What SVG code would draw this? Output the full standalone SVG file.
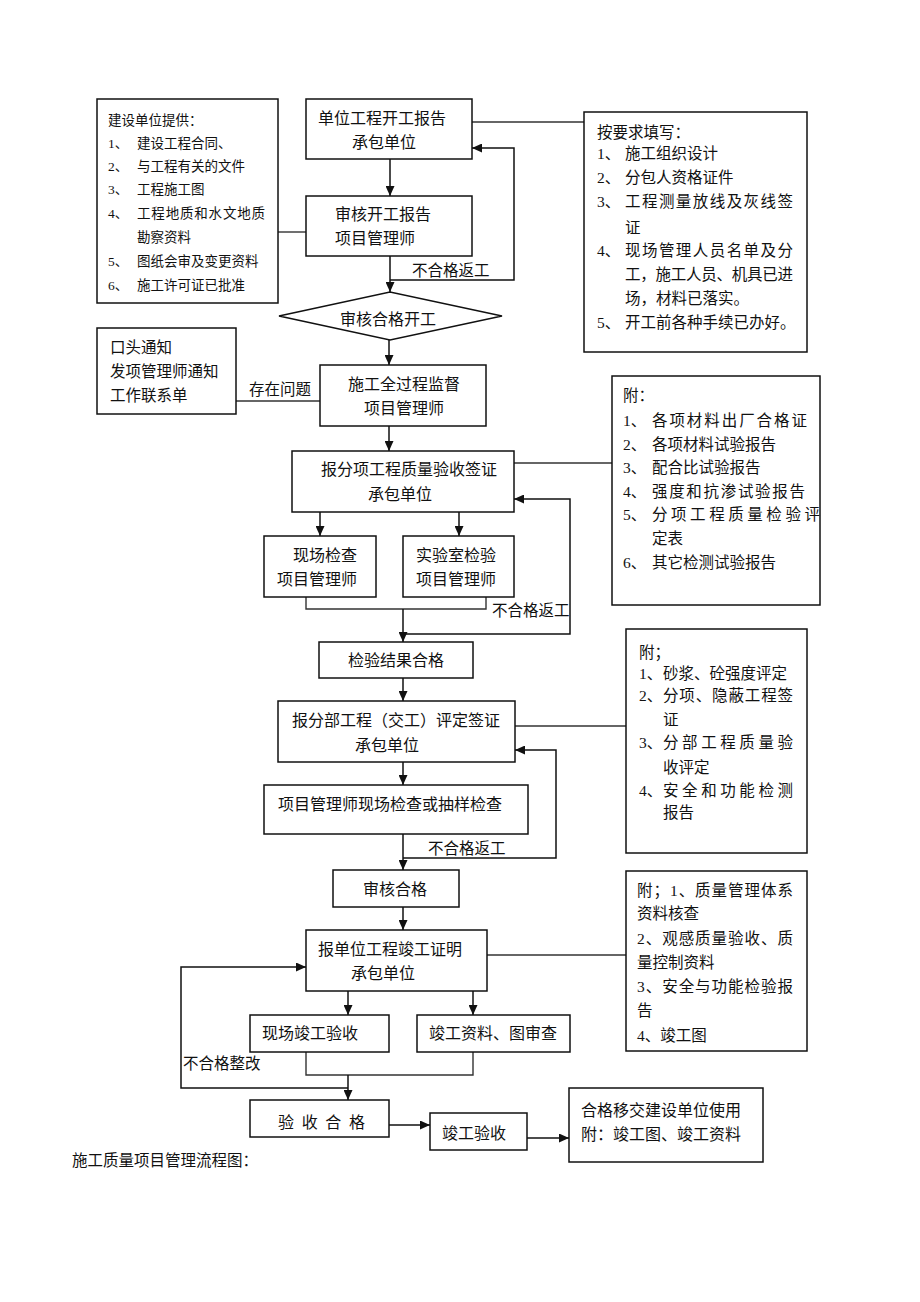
<svg xmlns="http://www.w3.org/2000/svg" width="920" height="1302" viewBox="0 0 920 1302">
<style>
.b{fill:#fff;stroke:#111;stroke-width:1.5}
.l{fill:none;stroke:#111;stroke-width:1.5}
.c{fill:none;stroke:#333;stroke-width:1.4}
text{font-family:"Liberation Serif","Noto Sans CJK SC",serif;fill:#111}
.t{font-size:16px}
.s{font-size:13.5px}
.m{font-size:15.5px}
.mid{text-anchor:middle}
</style>
<defs>
<marker id="ah" markerUnits="userSpaceOnUse" markerWidth="10" markerHeight="9" refX="10" refY="4.5" orient="auto">
<path d="M0,0 L10,4.5 L0,9 z" fill="#111"/>
</marker>
</defs>
<rect width="920" height="1302" fill="#fff"/>

<g id="connectors">
<line class="l" x1="390" y1="159" x2="390" y2="196" marker-end="url(#ah)"/>
<line class="c" x1="278" y1="232" x2="306" y2="232"/>
<line class="c" x1="472" y1="122" x2="584" y2="122"/>
<line class="l" x1="390" y1="256" x2="390" y2="292" marker-end="url(#ah)"/>
<polyline class="l" points="390,280 514,280 514,148 472,148" marker-end="url(#ah)"/>
<text class="m" x="412" y="276">不合格返工</text>
<line class="l" x1="389" y1="340" x2="389" y2="365" marker-end="url(#ah)"/>
<line class="c" x1="236" y1="401" x2="320" y2="401"/>
<text class="m" x="249" y="395">存在问题</text>
<line class="l" x1="389" y1="426" x2="389" y2="451" marker-end="url(#ah)"/>
<line class="c" x1="514" y1="463" x2="612" y2="463"/>
<line class="l" x1="320" y1="512" x2="320" y2="536" marker-end="url(#ah)"/>
<line class="l" x1="459" y1="512" x2="459" y2="536" marker-end="url(#ah)"/>
<polyline class="c" points="306,597 306,609 486,609 486,597"/>
<line class="l" x1="403" y1="609" x2="403" y2="642" marker-end="url(#ah)"/>
<polyline class="l" points="403,634 570,634 570,499 514,499" marker-end="url(#ah)"/>
<text class="m" x="492" y="616">不合格返工</text>
<line class="l" x1="403" y1="678" x2="403" y2="701" marker-end="url(#ah)"/>
<line class="c" x1="515" y1="726" x2="626" y2="726"/>
<line class="l" x1="403" y1="762" x2="403" y2="785" marker-end="url(#ah)"/>
<line class="l" x1="403" y1="834" x2="403" y2="870" marker-end="url(#ah)"/>
<polyline class="l" points="403,858 556,858 556,750 515,750" marker-end="url(#ah)"/>
<text class="m" x="428" y="854">不合格返工</text>
<line class="l" x1="403" y1="907" x2="403" y2="930" marker-end="url(#ah)"/>
<line class="c" x1="487" y1="955" x2="626" y2="955"/>
<line class="l" x1="348" y1="991" x2="348" y2="1015" marker-end="url(#ah)"/>
<line class="l" x1="473" y1="991" x2="473" y2="1015" marker-end="url(#ah)"/>
<polyline class="c" points="306,1052 306,1075 473,1075 473,1052"/>
<line class="l" x1="348" y1="1075" x2="348" y2="1100" marker-end="url(#ah)"/>
<polyline class="l" points="348,1088 181,1088 181,967 306,967" marker-end="url(#ah)"/>
<text class="m" x="183" y="1069">不合格整改</text>
<line class="l" x1="389" y1="1125" x2="430" y2="1125" marker-end="url(#ah)"/>
<line class="l" x1="527" y1="1138" x2="569" y2="1138" marker-end="url(#ah)"/>
</g>

<g id="note-provide">
<rect class="b" x="97" y="99" width="181" height="204"/>
<text class="s" x="108" y="125">建设单位提供：</text>
<text class="s" y="148"><tspan x="108">1、</tspan><tspan x="137">建设工程合同、</tspan></text>
<text class="s" y="171"><tspan x="108">2、</tspan><tspan x="137">与工程有关的文件</tspan></text>
<text class="s" y="194"><tspan x="108">3、</tspan><tspan x="137">工程施工图</tspan></text>
<text class="s" y="218"><tspan x="108">4、</tspan></text>
<text class="s" x="137" y="218" textLength="128" lengthAdjust="spacing">工程地质和水文地质</text>
<text class="s" x="137" y="242">勘察资料</text>
<text class="s" y="266"><tspan x="108">5、</tspan><tspan x="137">图纸会审及变更资料</tspan></text>
<text class="s" y="290"><tspan x="108">6、</tspan><tspan x="137">施工许可证已批准</tspan></text>
</g>

<g id="n-report">
<rect class="b" x="306" y="99" width="166" height="60"/>
<text class="t" x="318" y="124">单位工程开工报告</text>
<text class="t" x="352" y="148">承包单位</text>
</g>

<g id="note-fill">
<rect class="b" x="584" y="112" width="223" height="240"/>
<text class="m" x="597" y="138">按要求填写：</text>
<text class="m" y="159"><tspan x="597">1、</tspan><tspan x="625">施工组织设计</tspan></text>
<text class="m" y="183"><tspan x="597">2、</tspan><tspan x="625">分包人资格证件</tspan></text>
<text class="m" x="597" y="207">3、</text>
<text class="m" x="625" y="207" textLength="168" lengthAdjust="spacing">工程测量放线及灰线签</text>
<text class="m" x="625" y="233">证</text>
<text class="m" x="597" y="256">4、</text>
<text class="m" x="625" y="256" textLength="168" lengthAdjust="spacing">现场管理人员名单及分</text>
<text class="m" x="625" y="280" textLength="168" lengthAdjust="spacing">工，施工人员、机具已进</text>
<text class="m" x="625" y="304">场，材料已落实。</text>
<text class="m" y="328"><tspan x="597">5、</tspan><tspan x="625">开工前各种手续已办好。</tspan></text>
</g>

<g id="n-review">
<rect class="b" x="306" y="196" width="166" height="60"/>
<text class="t" x="335" y="220">审核开工报告</text>
<text class="t" x="335" y="244">项目管理师</text>
</g>

<g id="n-decision">
<polygon class="b" points="279,316 390,292 502,316 390,340"/>
<text class="t mid" x="388" y="325">审核合格开工</text>
</g>

<g id="note-notice">
<rect class="b" x="97" y="328" width="139" height="86"/>
<text class="m" x="110" y="353">口头通知</text>
<text class="m" x="110" y="377">发项管理师通知</text>
<text class="m" x="110" y="401">工作联系单</text>
</g>

<g id="n-supervise">
<rect class="b" x="320" y="365" width="166" height="61"/>
<text class="t mid" x="404" y="390">施工全过程监督</text>
<text class="t mid" x="404" y="414">项目管理师</text>
</g>

<g id="n-subitem">
<rect class="b" x="292" y="451" width="222" height="61"/>
<text class="t mid" x="409" y="475">报分项工程质量验收签证</text>
<text class="t mid" x="400" y="500">承包单位</text>
</g>

<g id="note-sub">
<rect class="b" x="612" y="376" width="208" height="229"/>
<text class="m" x="623" y="401">附：</text>
<text class="m" x="623" y="426">1、</text>
<text class="m" x="652" y="426" textLength="155" lengthAdjust="spacing">各项材料出厂合格证</text>
<text class="m" y="450"><tspan x="623">2、</tspan><tspan x="652">各项材料试验报告</tspan></text>
<text class="m" y="473"><tspan x="623">3、</tspan><tspan x="652">配合比试验报告</tspan></text>
<text class="m" x="623" y="497">4、</text>
<text class="m" x="652" y="497" textLength="153" lengthAdjust="spacing">强度和抗渗试验报告</text>
<text class="m" x="623" y="520">5、</text>
<text class="m" x="652" y="520" textLength="168" lengthAdjust="spacing">分项工程质量检验评</text>
<text class="m" x="652" y="544">定表</text>
<text class="m" y="568"><tspan x="623">6、</tspan><tspan x="652">其它检测试验报告</tspan></text>
</g>

<g id="n-site-check">
<rect class="b" x="264" y="536" width="112" height="61"/>
<text class="t" x="293" y="561">现场检查</text>
<text class="t" x="277" y="585">项目管理师</text>
</g>

<g id="n-lab-check">
<rect class="b" x="403" y="536" width="111" height="61"/>
<text class="t" x="416" y="561">实验室检验</text>
<text class="t" x="416" y="585">项目管理师</text>
</g>

<g id="n-result-ok">
<rect class="b" x="319" y="642" width="154" height="36"/>
<text class="t mid" x="396" y="666">检验结果合格</text>
</g>

<g id="n-part">
<rect class="b" x="278" y="701" width="237" height="61"/>
<text class="t mid" x="396" y="726">报分部工程（交工）评定签证</text>
<text class="t mid" x="387" y="751">承包单位</text>
</g>

<g id="note-part">
<rect class="b" x="626" y="629" width="181" height="224"/>
<text class="m" x="639" y="658">附；</text>
<text class="m" y="679"><tspan x="639">1、</tspan><tspan x="663">砂浆、砼强度评定</tspan></text>
<text class="m" x="639" y="701">2、</text>
<text class="m" x="663" y="701" textLength="130" lengthAdjust="spacing">分项、隐蔽工程签</text>
<text class="m" x="663" y="725">证</text>
<text class="m" x="639" y="748">3、</text>
<text class="m" x="663" y="748" textLength="130" lengthAdjust="spacing">分部工程质量验</text>
<text class="m" x="663" y="773">收评定</text>
<text class="m" x="639" y="796">4、</text>
<text class="m" x="663" y="796" textLength="130" lengthAdjust="spacing">安全和功能检测</text>
<text class="m" x="663" y="818">报告</text>
</g>

<g id="n-pm-check">
<rect class="b" x="264" y="785" width="264" height="49"/>
<text class="t mid" x="390" y="810">项目管理师现场检查或抽样检查</text>
</g>

<g id="n-review-ok">
<rect class="b" x="333" y="870" width="126" height="37"/>
<text class="t mid" x="395" y="895">审核合格</text>
</g>

<g id="n-completion">
<rect class="b" x="306" y="930" width="181" height="61"/>
<text class="t" x="318" y="955">报单位工程竣工证明</text>
<text class="t" x="351" y="979">承包单位</text>
</g>

<g id="note-completion">
<rect class="b" x="626" y="871" width="181" height="180"/>
<text class="m" x="637" y="896" textLength="156" lengthAdjust="spacing">附；1、质量管理体系</text>
<text class="m" x="637" y="919">资料核查</text>
<text class="m" x="637" y="944" textLength="156" lengthAdjust="spacing">2、观感质量验收、质</text>
<text class="m" x="637" y="968">量控制资料</text>
<text class="m" x="637" y="992" textLength="156" lengthAdjust="spacing">3、安全与功能检验报</text>
<text class="m" x="637" y="1016">告</text>
<text class="m" x="637" y="1041">4、竣工图</text>
</g>

<g id="n-site-accept">
<rect class="b" x="250" y="1015" width="139" height="37"/>
<text class="t" x="262" y="1039">现场竣工验收</text>
</g>

<g id="n-doc-review">
<rect class="b" x="417" y="1015" width="153" height="37"/>
<text class="t" x="429" y="1039">竣工资料、图审查</text>
</g>

<g id="n-accept-ok">
<rect class="b" x="250" y="1100" width="139" height="37"/>
<text class="t" x="278" y="1128" textLength="87" lengthAdjust="spacing">验收合格</text>
</g>

<g id="n-final-accept">
<rect class="b" x="430" y="1113" width="97" height="37"/>
<text class="t" x="442" y="1139">竣工验收</text>
</g>

<g id="n-handover">
<rect class="b" x="569" y="1088" width="194" height="74"/>
<text class="t" x="581" y="1116">合格移交建设单位使用</text>
<text class="t" x="581" y="1140">附：竣工图、竣工资料</text>
</g>

<text class="m" x="72" y="1166">施工质量项目管理流程图：</text>
</svg>
